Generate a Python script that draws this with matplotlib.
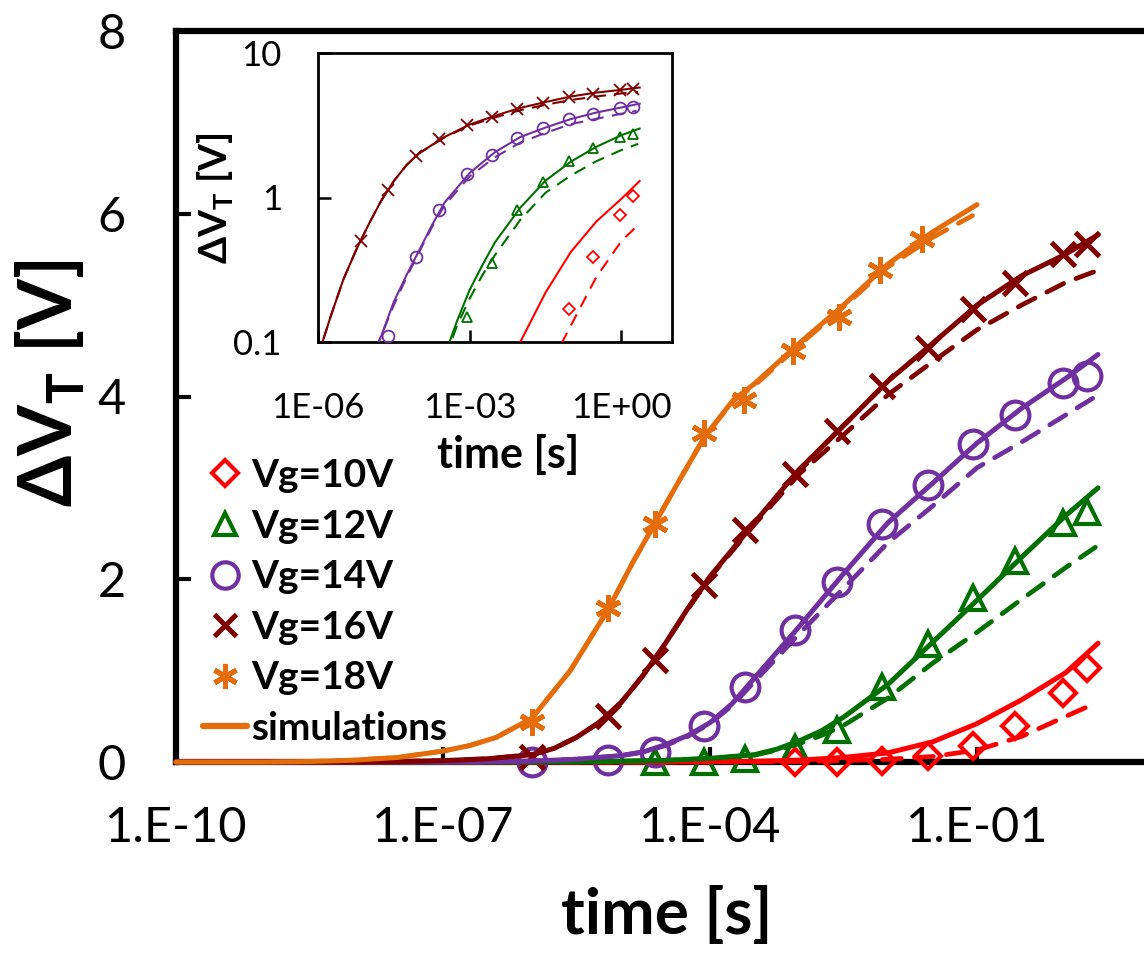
import numpy as np
import matplotlib
matplotlib.use('Agg')
import matplotlib.pyplot as plt
from matplotlib.lines import Line2D
from matplotlib.ticker import NullLocator

plt.rcParams['font.family'] = ['Lato', 'DejaVu Sans']
plt.rcParams['mathtext.fontset'] = 'custom'
plt.rcParams['mathtext.rm'] = 'Lato'
plt.rcParams['mathtext.bf'] = 'Lato:bold'

# ---------------- measured data (time [s], dVT [V]) ----------------
t_vg10 = [9.0e-4, 2.7e-3, 8.5e-3, 2.8e-2, 9.1e-2, 0.27, 0.93, 1.7]
v_vg10 = [0.0, 0.0, 0.01, 0.07, 0.17, 0.39, 0.76, 1.03]

t_vg12 = [2.4e-5, 8.5e-5, 2.5e-4, 9.0e-4, 2.7e-3, 8.5e-3, 2.8e-2, 9.1e-2, 0.27, 0.93, 1.7]
v_vg12 = [0.0, 0.0, 0.03, 0.15, 0.35, 0.82, 1.29, 1.80, 2.20, 2.62, 2.74]

t_vg14 = [1.0e-6, 7.1e-6, 2.4e-5, 8.5e-5, 2.5e-4, 9.0e-4, 2.7e-3, 8.5e-3, 2.8e-2, 9.1e-2, 0.27, 0.93, 1.7]
v_vg14 = [0.0, 0.02, 0.11, 0.39, 0.82, 1.45, 1.97, 2.60, 3.03, 3.48, 3.80, 4.15, 4.22]

t_vg16 = [1.0e-6, 7.1e-6, 2.4e-5, 8.5e-5, 2.5e-4, 9.0e-4, 2.7e-3, 8.5e-3, 2.8e-2, 9.1e-2, 0.27, 0.93, 1.7]
v_vg16 = [0.06, 0.50, 1.12, 1.94, 2.54, 3.15, 3.62, 4.12, 4.53, 4.96, 5.24, 5.56, 5.67]

t_vg18 = [1.0e-6, 7.1e-6, 2.4e-5, 8.5e-5, 2.4e-4, 8.5e-4, 2.8e-3, 8.2e-3, 2.4e-2]
v_vg18 = [0.44, 1.68, 2.60, 3.60, 3.96, 4.50, 4.87, 5.38, 5.72]

# ---------------- simulations (log10 time, dVT) ----------------
sim10_logt = [-10, -5, -4, -3.5, -3, -2.5, -2, -1.5, -1, -0.5, 0, 0.36]
sim10_v = [0, 0, 0.003, 0.008, 0.02, 0.05, 0.10, 0.22, 0.42, 0.68, 0.98, 1.30]
sim10d_logt = [-10, -5, -3.5, -3, -2.5, -2, -1.5, -1, -0.5, 0, 0.3]
sim10d_v = [0, 0, 0.002, 0.005, 0.015, 0.03, 0.06, 0.13, 0.28, 0.50, 0.63]

sim12_logt = [-10, -6, -5.5, -5, -4.5, -4, -3.5, -3.25, -3, -2.75, -2.5, -2, -1.5, -1, -0.5, 0, 0.36]
sim12_v = [0, 0, 0.003, 0.008, 0.018, 0.04, 0.08, 0.14, 0.23, 0.34, 0.49, 0.85, 1.31, 1.77, 2.24, 2.70, 3.00]
sim12d_logt = [-10, -6, -5.5, -5, -4.5, -4, -3.5, -3.25, -3, -2.75, -2.5, -2, -1.5, -1, -0.5, 0, 0.33]
sim12d_v = [0, 0, 0.003, 0.008, 0.017, 0.038, 0.075, 0.13, 0.20, 0.29, 0.40, 0.70, 1.08, 1.42, 1.78, 2.13, 2.35]

sim14_logt = [-10, -7, -6.5, -6, -5.5, -5, -4.75, -4.5, -4.25, -4, -3.75, -3.5, -3, -2.5, -2, -1.5, -1, -0.5, 0, 0.36]
sim14_v = [0, 0, 0.003, 0.01, 0.03, 0.07, 0.11, 0.19, 0.29, 0.43, 0.64, 0.92, 1.48, 2.06, 2.62, 3.05, 3.49, 3.87, 4.20, 4.46]
sim14d_logt = [-10, -7, -6.5, -6, -5.5, -5, -4.75, -4.5, -4.25, -4, -3.75, -3.5, -3, -2.5, -2, -1.5, -1, -0.5, 0, 0.3]
sim14d_v = [0, 0, 0.003, 0.01, 0.03, 0.07, 0.11, 0.18, 0.28, 0.42, 0.62, 0.88, 1.40, 1.90, 2.40, 2.80, 3.22, 3.50, 3.80, 3.98]

sim16_logt = [-10, -8, -7.5, -7, -6.5, -6, -5.75, -5.5, -5.25, -5, -4.75, -4.5, -4.25, -4, -3.5, -3, -2.5, -2, -1.5, -1, -0.5, 0, 0.36]
sim16_v = [0, 0, 0.005, 0.015, 0.035, 0.08, 0.15, 0.27, 0.43, 0.65, 0.95, 1.30, 1.68, 2.03, 2.62, 3.20, 3.68, 4.17, 4.58, 5.00, 5.32, 5.56, 5.77]
sim16d_logt = [-10, -8, -7.5, -7, -6.5, -6, -5.75, -5.5, -5.25, -5, -4.75, -4.5, -4.25, -4, -3.5, -3, -2.5, -2, -1.5, -1, -0.5, 0, 0.33]
sim16d_v = [0, 0, 0.005, 0.015, 0.035, 0.08, 0.15, 0.27, 0.43, 0.65, 0.95, 1.30, 1.67, 2.02, 2.60, 3.15, 3.58, 4.02, 4.38, 4.73, 5.00, 5.25, 5.37]

sim18_logt = [-10, -9, -8.5, -8, -7.5, -7, -6.7, -6.4, -6.0, -5.57, -5.15, -4.87, -4.62, -4.34, -4.06, -3.74, -3.5, -3, -2.5, -2, -1.5, -1.0]
sim18_v = [0, 0, 0.005, 0.02, 0.05, 0.12, 0.18, 0.27, 0.48, 1.00, 1.66, 2.18, 2.61, 3.09, 3.56, 3.96, 4.14, 4.58, 5.00, 5.45, 5.80, 6.10]
sim18d_logt = [-10, -9, -8.5, -8, -7.5, -7, -6.7, -6.4, -6.0, -5.57, -5.15, -4.87, -4.62, -4.34, -4.06, -3.74, -3.5, -3, -2.5, -2, -1.5, -1.05]
sim18d_v = [0, 0, 0.005, 0.02, 0.05, 0.12, 0.18, 0.27, 0.48, 1.00, 1.66, 2.18, 2.61, 3.09, 3.56, 3.95, 4.12, 4.56, 4.98, 5.42, 5.74, 5.98]

labels = ['Vg=10V', 'Vg=12V', 'Vg=14V', 'Vg=16V', 'Vg=18V']
colors = ['#FF0000', '#007000', '#7030A0', '#800000', '#E46C0A']
markers = ['D', '^', 'o', 'x', (6, 2, 0)]

meas = [(t_vg10, v_vg10), (t_vg12, v_vg12), (t_vg14, v_vg14), (t_vg16, v_vg16), (t_vg18, v_vg18)]
sims = [(sim10_logt, sim10_v, sim10d_logt, sim10d_v),
        (sim12_logt, sim12_v, sim12d_logt, sim12d_v),
        (sim14_logt, sim14_v, sim14d_logt, sim14d_v),
        (sim16_logt, sim16_v, sim16d_logt, sim16d_v),
        (sim18_logt, sim18_v, sim18d_logt, sim18d_v)]

ms_main = [13.5, 17, 20, 17, 19]
mew_main = [3.0, 3.0, 3.0, 3.6, 3.6]
ms_in = [6, 7.5, 8.5, 8, 8]

W, H = 1144, 956
fig = plt.figure(figsize=(W / 100, H / 100), dpi=100)

# ---------------- main axes ----------------
x0, y0, ytop = 176, 762, 31
ax = fig.add_axes([x0 / W, 1 - y0 / H, 1 - x0 / W, (y0 - ytop) / H])
ax.set_xscale('log')
ax.set_xlim(1e-10, 10 ** ((W - x0) / 89.0 - 10))
ax.set_ylim(0, 8)
for s in ['left', 'bottom', 'top']:
    ax.spines[s].set_linewidth(4.5)
ax.spines['right'].set_visible(False)
ax.set_xticks([1e-10, 1e-7, 1e-4, 1e-1], labels=['1.E-10', '1.E-07', '1.E-04', '1.E-01'])
ax.xaxis.set_minor_locator(NullLocator())
ax.set_yticks([0, 2, 4, 6, 8])
ax.tick_params(direction='in', length=11, width=3, labelsize=35)
ax.tick_params(axis='y', pad=36)
ax.tick_params(axis='x', pad=32)

dash = (0, (4.0, 2.8))
for i, (t, v) in enumerate(meas):
    ax.plot(t, v, ls='none', marker=markers[i], ms=ms_main[i], mfc='none',
            mec=colors[i], mew=mew_main[i], clip_on=False, zorder=3)
for i, (lt, v, ltd, vd) in enumerate(sims):
    ax.plot(10.0 ** np.array(ltd), vd, color=colors[i], lw=3.4, ls=dash,
            clip_on=False, zorder=4, solid_capstyle='round', dash_capstyle='round')
for i, (lt, v, ltd, vd) in enumerate(sims):
    ax.plot(10.0 ** np.array(lt), v, color=colors[i], lw=3.6,
            clip_on=False, zorder=5, solid_capstyle='round', solid_joinstyle='round')

handles = [Line2D([], [], ls='none', marker=markers[i], ms=ms_main[i] * 0.95, mfc='none',
                  mec=colors[i], mew=mew_main[i]) for i in range(5)]
handles.append(Line2D([], [], color=colors[4], lw=4.5, solid_capstyle='round'))
leg = ax.legend(handles, labels + ['simulations'], loc='upper left',
                bbox_to_anchor=(203 / W, 1 - 458 / H), bbox_transform=fig.transFigure,
                frameon=False, prop={'weight': 'bold', 'size': 28}, handlelength=1.13,
                handletextpad=0.1, labelspacing=0.4, borderpad=0, borderaxespad=0,
                numpoints=1)

fig.text(667 / W, 1 - 914 / H, 'time [s]', fontsize=46, fontweight='bold', ha='center', va='center')
fig.text(50 / W, 1 - 383 / H, r'ΔV$_\mathbf{T}$ [V]', fontsize=53, fontweight='bold',
         ha='center', va='center', rotation=90)

# ---------------- inset ----------------
ix0, ix1, iy0, iy1 = 318, 672, 342, 53
axi = fig.add_axes([ix0 / W, 1 - iy0 / H, (ix1 - ix0) / W, (iy0 - iy1) / H])
axi.set_facecolor('white')
axi.set_xscale('log')
axi.set_yscale('log')
axi.set_xlim(1e-6, 1e1)
axi.set_ylim(0.1, 10)
for s in axi.spines.values():
    s.set_linewidth(2.0)
axi.set_xticks([1e-6, 1e-3, 1e0], labels=['1E-06', '1E-03', '1E+00'])
axi.set_yticks([0.1, 1, 10], labels=['0.1', '1', '10'])
axi.xaxis.set_minor_locator(NullLocator())
axi.yaxis.set_minor_locator(NullLocator())
axi.tick_params(direction='in', length=9, width=1.8, labelsize=25)
axi.tick_params(axis='y', pad=26)
axi.tick_params(axis='x', pad=36)

for i in range(4):
    t, v = meas[i]
    vv = np.array(v, dtype=float)
    vv[vv <= 0] = np.nan
    axi.plot(t, vv, ls='none', marker=markers[i], ms=ms_in[i], mfc='none',
             mec=colors[i], mew=1.3, zorder=3)
    lt, vs, ltd, vd = sims[i]
    vs = np.array(vs, dtype=float); vs[vs <= 0] = np.nan
    vd = np.array(vd, dtype=float); vd[vd <= 0] = np.nan
    axi.plot(10.0 ** np.array(ltd), vd, color=colors[i], lw=1.5, ls=(0, (6, 4)), zorder=4)
    axi.plot(10.0 ** np.array(lt), vs, color=colors[i], lw=1.5, zorder=5)

fig.text(508 / W, 1 - 454 / H, 'time [s]', fontsize=31, fontweight='bold', ha='center', va='center')
fig.text(216 / W, 1 - 198 / H, r'ΔV$_\mathbf{T}$ [V]', fontsize=28, fontweight='bold',
         ha='center', va='center', rotation=90)

fig.savefig('out.png', dpi=100)
